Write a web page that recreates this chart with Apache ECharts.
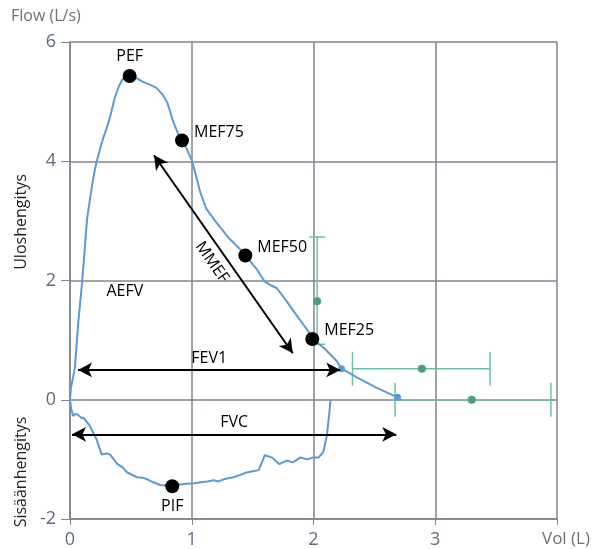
<!DOCTYPE html>
<html lang="fi">
<head>
	<meta charset="UTF-8">
	<title>Virtaus-tilavuuskäyrä</title>
	<style>
		body, div {
			margin: 0;
			padding: 0;
		}
		#main {
			width: 596px;
			height: 549px;
		}
	</style>
</head>
<body>
	<div id="main"></div>

	<script src="https://cdn.jsdelivr.net/npm/echarts@6/dist/echarts.min.js"></script>

	<script>
    // uloshengitys (tilavuus L, virtaus L/s)
    var expVol  = [0, 0.008, 0.04, 0.066, 0.1, 0.12, 0.14, 0.18, 0.205, 0.22, 0.246, 0.27, 0.3, 0.33, 0.37, 0.40, 0.43, 0.46, 0.49, 0.55, 0.6, 0.66, 0.71, 0.76, 0.8, 0.85, 0.89, 0.92, 0.96, 1.0, 1.04, 1.07, 1.12, 1.2, 1.31, 1.42, 1.44, 1.53, 1.6, 1.65, 1.7, 1.78, 1.86, 1.95, 2.0, 2.08, 2.19, 2.23, 2.36, 2.52, 2.69, 2.72];
    var expFlow = [0, 0.2, 0.53, 1.25, 1.98, 2.5, 3.03, 3.58, 3.87, 4.0, 4.2, 4.37, 4.55, 4.75, 5.08, 5.25, 5.37, 5.42, 5.43, 5.39, 5.33, 5.28, 5.23, 5.12, 4.98, 4.65, 4.45, 4.35, 4.2, 4.02, 3.72, 3.48, 3.2, 2.98, 2.7, 2.48, 2.42, 2.2, 1.98, 1.92, 1.87, 1.65, 1.42, 1.17, 1.0, 0.88, 0.65, 0.52, 0.37, 0.2, 0.04, 0];

    // sisäänhengitys
    var inspVol  = [0, 0.01, 0.025, 0.045, 0.066, 0.09, 0.11, 0.16, 0.19, 0.22, 0.26, 0.3, 0.33, 0.39, 0.43, 0.47, 0.55, 0.6, 0.63, 0.68, 0.74, 0.845, 0.9, 0.96, 1.02, 1.09, 1.13, 1.18, 1.22, 1.27, 1.34, 1.4, 1.45, 1.5, 1.55, 1.6, 1.66, 1.72, 1.78, 1.83, 1.89, 1.95, 1.99, 2.04, 2.08, 2.11, 2.13, 2.14];
    var inspFlow = [0, -0.15, -0.27, -0.24, -0.25, -0.3, -0.3, -0.43, -0.55, -0.67, -0.92, -0.9, -0.92, -1.08, -1.13, -1.22, -1.3, -1.31, -1.33, -1.38, -1.43, -1.45, -1.42, -1.41, -1.4, -1.38, -1.37, -1.35, -1.37, -1.33, -1.3, -1.26, -1.22, -1.2, -1.18, -0.93, -0.97, -1.08, -1.02, -1.05, -0.97, -1.0, -0.97, -0.97, -0.88, -0.6, -0.22, 0];

    // mitatut pisteet
    var keyNames = ['PEF', 'MEF75', 'MEF50', 'MEF25', 'PIF'];
    var keyVol   = [0.49, 0.92, 1.44, 1.99, 0.84];
    var keyFlow  = [5.43, 4.35, 2.42, 1.02, -1.45];

    // käyrän pienet merkit
    var markVol  = [2.0, 2.23, 2.69];
    var markFlow = [1.0, 0.52, 0.04];

    // viitearvot (keskiarvo + vaihteluväli)
    var refVol      = [2.03, 2.89, 3.30];
    var refFlow     = [1.65, 0.52, 0.00];
    var refVolLow   = [2.03, 2.32, 2.67];
    var refVolHigh  = [2.03, 3.45, 3.95];
    var refFlowLow  = [0.93, 0.52, 0.00];
    var refFlowHigh = [2.73, 0.52, 0.00];

    // nuolet
    var arrowNames = ['FEV1', 'FVC', 'MMEF'];
    var arrowStart = [[0.066, 0.5], [0.016, -0.58], [0.69, 4.1]];
    var arrowEnd   = [[2.22, 0.5], [2.68, -0.58], [1.83, 0.78]];

    // muut tekstit
    var noteNames = ['AEFV'];
    var noteVol   = [0.45];
    var noteFlow  = [1.82];

    var xTicks = [0, 1, 2, 3, 4];
    var yTicks = [-2, 0, 2, 4, 6];

    function zip(a, b) {
        return a.map(function(v, i) { return [v, b[i]]; });
    }

    var myEcharts = echarts.init(document.getElementById('main'));

    var gridColor = '#7e8590';
    var tickColor = '#5f6b7d';
    var curveColor = '#5b9bd5';
    var refColor = '#6cc2a8';

    var labelPos = {PEF: 'top', PIF: 'bottom'};

    var options = {
        animation: false,
        textStyle: { fontFamily: 'Open Sans' },
        grid: { left: 70, right: 39, top: 42, bottom: 27 },
        xAxis: {
            type: 'value',
            min: xTicks[0],
            max: xTicks[xTicks.length - 1],
            interval: 1,
            axisLine: { show: true, onZero: false, lineStyle: { color: gridColor, width: 1.5 } },
            axisTick: { show: true, length: 6, lineStyle: { color: gridColor } },
            axisLabel: {
                color: tickColor, fontSize: 18, margin: 12,
                formatter: function(v) { return v === 4 ? '' : v; }
            },
            splitLine: { show: true, lineStyle: { color: gridColor, width: 1.5 } }
        },
        yAxis: {
            type: 'value',
            min: yTicks[0],
            max: yTicks[yTicks.length - 1],
            interval: 2,
            axisLine: { show: true, onZero: false, lineStyle: { color: gridColor, width: 1.5 } },
            axisTick: { show: true, length: 9, lineStyle: { color: gridColor } },
            axisLabel: { color: tickColor, fontSize: 18, margin: 14 },
            splitLine: { show: true, lineStyle: { color: gridColor, width: 1.5 } }
        },
        graphic: [
            { type: 'text', left: 11, top: 8, style: { text: 'Flow (L/s)', fill: '#707070', font: '16px "Open Sans"' } },
            { type: 'text', left: 542, top: 531, style: { text: 'Vol (L)', fill: '#707070', font: '17px "Open Sans"' } },
            { type: 'text', x: 21, y: 222, rotation: Math.PI / 2,
              style: { text: 'Uloshengitys', fill: '#222', font: '16px "Open Sans"', textAlign: 'center', textVerticalAlign: 'middle', align: 'center', verticalAlign: 'middle' } },
            { type: 'text', x: 21, y: 472, rotation: Math.PI / 2,
              style: { text: 'Sisäänhengitys', fill: '#222', font: '16px "Open Sans"', textAlign: 'center', textVerticalAlign: 'middle', align: 'center', verticalAlign: 'middle' } }
        ],
        series: [
            {
                name: 'viite',
                type: 'custom',
                data: refVol.map(function(v, i) {
                    return [v, refFlow[i], refVolLow[i], refVolHigh[i], refFlowLow[i], refFlowHigh[i]];
                }),
                renderItem: function(params, api) {
                    var c = api.coord([api.value(0), api.value(1)]);
                    var xl = api.coord([api.value(2), api.value(1)]);
                    var xh = api.coord([api.value(3), api.value(1)]);
                    var yl = api.coord([api.value(0), api.value(4)]);
                    var yh = api.coord([api.value(0), api.value(5)]);
                    var ls = { stroke: refColor, lineWidth: 1.5 };
                    var children = [];
                    if (xh[0] - xl[0] > 1) {
                        children.push({ type: 'line', shape: { x1: xl[0], y1: c[1], x2: xh[0], y2: c[1] }, style: ls });
                        children.push({ type: 'line', shape: { x1: xl[0], y1: c[1] - 17, x2: xl[0], y2: c[1] + 17 }, style: ls });
                        children.push({ type: 'line', shape: { x1: xh[0], y1: c[1] - 17, x2: xh[0], y2: c[1] + 17 }, style: ls });
                    }
                    if (yl[1] - yh[1] > 1) {
                        children.push({ type: 'line', shape: { x1: c[0], y1: yl[1], x2: c[0], y2: yh[1] }, style: ls });
                        children.push({ type: 'line', shape: { x1: c[0] - 8, y1: yl[1], x2: c[0] + 8, y2: yl[1] }, style: ls });
                        children.push({ type: 'line', shape: { x1: c[0] - 8, y1: yh[1], x2: c[0] + 8, y2: yh[1] }, style: ls });
                    }
                    children.push({ type: 'circle', shape: { cx: c[0], cy: c[1], r: 4 }, style: { fill: '#4f9c7e' } });
                    return { type: 'group', children: children };
                },
                z: 2
            },
            {
                name: 'uloshengitys',
                type: 'line',
                data: zip(expVol, expFlow),
                showSymbol: false,
                lineStyle: { color: curveColor, width: 2 },
                z: 3
            },
            {
                name: 'sisäänhengitys',
                type: 'line',
                data: zip(inspVol, inspFlow),
                showSymbol: false,
                lineStyle: { color: curveColor, width: 2 },
                z: 3
            },
            {
                name: 'merkit',
                type: 'scatter',
                data: zip(markVol, markFlow),
                symbolSize: 7,
                itemStyle: { color: curveColor, opacity: 1 },
                z: 4
            },
            {
                name: 'pisteet',
                type: 'scatter',
                data: keyNames.map(function(n, i) {
                    var pos = labelPos[n] || 'right';
                    return {
                        name: n,
                        value: [keyVol[i], keyFlow[i]],
                        label: { position: pos, offset: pos === 'right' ? [0, -8] : [0, 0] }
                    };
                }),
                symbolSize: 14,
                itemStyle: { color: '#000', opacity: 1 },
                label: { show: true, formatter: '{b}', color: '#000', fontSize: 16, distance: 5 },
                markLine: {
                    silent: true,
                    symbol: ['arrow', 'arrow'],
                    symbolSize: [11, 14],
                    lineStyle: { color: '#000', width: 2, type: 'solid', opacity: 1 },
                    label: { show: true, formatter: '{b}', color: '#000', fontSize: 16, position: 'insideMiddleTop', distance: 4 },
                    data: arrowNames.map(function(n, i) {
                        return [
                            { name: n, coord: arrowStart[i], label: n === 'MMEF' ? { position: 'insideMiddleBottom', distance: 6 } : {} },
                            { coord: arrowEnd[i] }
                        ];
                    })
                },
                z: 5
            },
            {
                name: 'tekstit',
                type: 'scatter',
                data: noteNames.map(function(n, i) { return { name: n, value: [noteVol[i], noteFlow[i]] }; }),
                symbolSize: 0,
                itemStyle: { opacity: 1 },
                label: { show: true, position: 'inside', formatter: '{b}', color: '#000', fontSize: 16 },
                z: 5
            }
        ]
    };

    myEcharts.setOption(options);
	</script>

</body>
</html>
